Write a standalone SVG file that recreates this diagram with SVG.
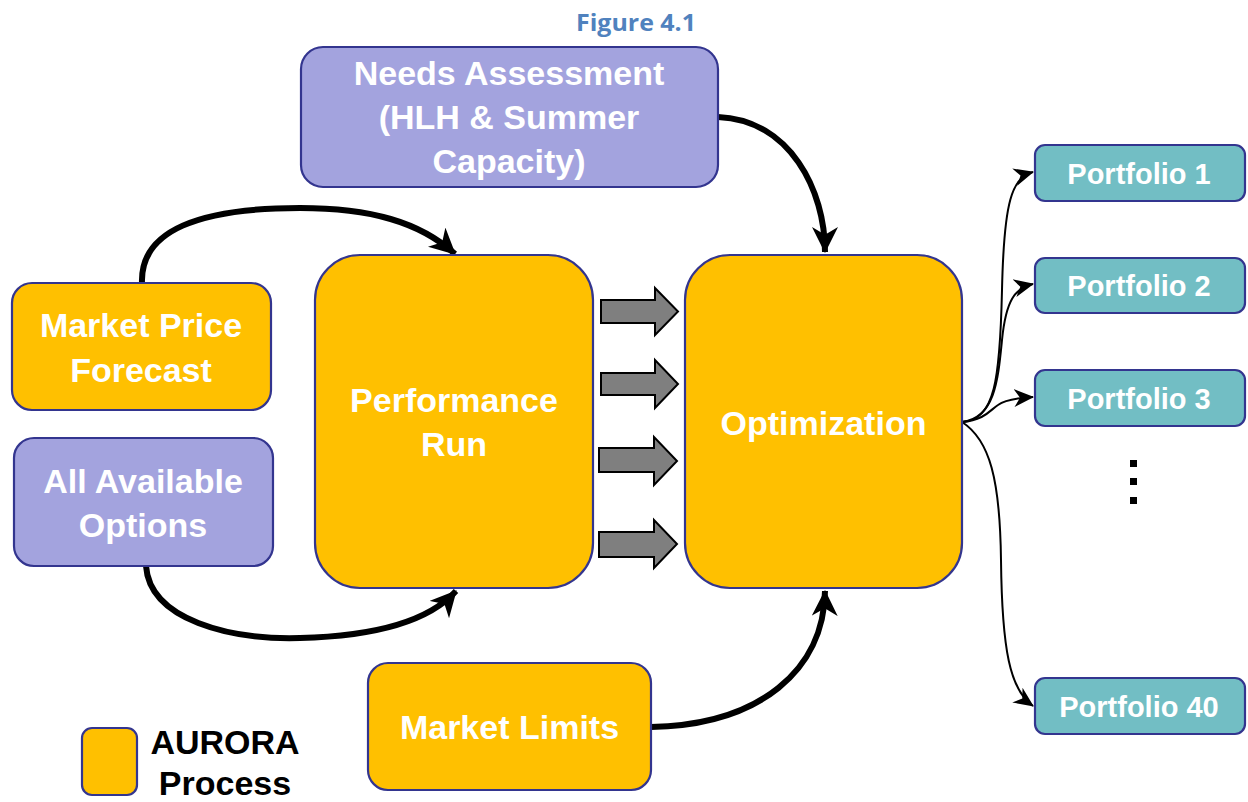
<svg xmlns="http://www.w3.org/2000/svg" width="1248" height="802" viewBox="0 0 1248 802">
<defs>
<style>
.box{stroke:#33358f;stroke-width:2.2}
.gold{fill:#FFC000}
.lav{fill:#A3A3DE}
.teal{fill:#72BEC4}
.t{font-family:"Liberation Sans",Arial,sans-serif;font-weight:bold;font-size:34px;fill:#fff;text-anchor:middle}
.pt{font-family:"Liberation Sans",Arial,sans-serif;font-weight:bold;font-size:29px;fill:#fff;text-anchor:middle}
.lg{font-family:"Liberation Sans",Arial,sans-serif;font-weight:bold;font-size:34px;fill:#000;text-anchor:middle}
.thick{fill:none;stroke:#000;stroke-width:6}
.thin{fill:none;stroke:#000;stroke-width:2}
.blk{fill:#7f7f7f;stroke:#000;stroke-width:2;stroke-linejoin:miter}
</style>
<marker id="mThick" viewBox="0 0 24 24" refX="23" refY="12" markerWidth="26" markerHeight="26" markerUnits="userSpaceOnUse" orient="auto">
<path d="M0,0 L24,12 L0,24 L7,12 z" fill="#000"/>
</marker>
<marker id="mThin" viewBox="0 0 20 20" refX="19" refY="10" markerWidth="20" markerHeight="20" markerUnits="userSpaceOnUse" orient="auto">
<path d="M0,1 L20,10 L0,19 L6,10 z" fill="#000"/>
</marker>
</defs>
<rect width="1248" height="802" fill="#fff"/>

<text x="636" y="31" font-family="'Open Sans','Liberation Sans',sans-serif" font-weight="bold" font-size="24" fill="#5082be" text-anchor="middle" textLength="120" lengthAdjust="spacingAndGlyphs">Figure 4.1</text>

<g id="connectors">
<path class="thick" d="M142,283 C140,230 200,208 300,208 C370,208 420,222 455,254" marker-end="url(#mThick)"/>
<path class="thick" d="M146,566 C150,620 230,640 300,638 C380,636 430,620 456,591" marker-end="url(#mThick)"/>
<path class="thick" d="M718,117 C790,120 825,190 825,252" marker-end="url(#mThick)"/>
<path class="thick" d="M651,727 C760,725 824,670 825,591" marker-end="url(#mThick)"/>
<path class="thin" d="M962,422 C995,420 1000,380 1002,290 C1004,200 1012,178 1033,172" marker-end="url(#mThin)"/>
<path class="thin" d="M962,422 C995,418 998,380 1002,340 C1006,300 1015,288 1033,284" marker-end="url(#mThin)"/>
<path class="thin" d="M962,422 C985,420 990,410 998,405 C1005,400 1015,398 1033,397" marker-end="url(#mThin)"/>
<path class="thin" d="M962,422 C990,440 1000,480 1001,560 C1002,650 1010,690 1033,706" marker-end="url(#mThin)"/>
<path class="blk" d="M601,300 L655,300 L655,288 L678,311.5 L655,335 L655,323 L601,323 z"/>
<path class="blk" d="M601,373 L655,373 L655,360 L678,384 L655,408 L655,395 L601,395 z"/>
<path class="blk" d="M599,448 L654,448 L654,437 L677,461 L654,485 L654,472 L599,472 z"/>
<path class="blk" d="M599,532 L654,532 L654,520 L677,544 L654,568 L654,557 L599,557 z"/>
</g>

<g id="needs">
<rect class="box lav" x="301" y="47" width="417" height="140" rx="22"/>
<text class="t" x="509" y="85">Needs Assessment</text>
<text class="t" x="509" y="129">(HLH &amp; Summer</text>
<text class="t" x="509" y="173">Capacity)</text>
</g>

<g id="market-price">
<rect class="box gold" x="12" y="283" width="259" height="127" rx="20"/>
<text class="t" x="141" y="337">Market Price</text>
<text class="t" x="141" y="382">Forecast</text>
</g>

<g id="options">
<rect class="box lav" x="14" y="438" width="259" height="128" rx="20"/>
<text class="t" x="143" y="493">All Available</text>
<text class="t" x="143" y="537">Options</text>
</g>

<g id="performance">
<rect class="box gold" x="315" y="255" width="278" height="333" rx="45"/>
<text class="t" x="454" y="412">Performance</text>
<text class="t" x="454" y="456">Run</text>
</g>

<g id="optimization">
<rect class="box gold" x="685" y="255" width="277" height="333" rx="45"/>
<text class="t" x="823.5" y="435">Optimization</text>
</g>

<g id="market-limits">
<rect class="box gold" x="368" y="663" width="283" height="127" rx="20"/>
<text class="t" x="509.5" y="739">Market Limits</text>
</g>

<g id="portfolio1">
<rect class="box teal" x="1035" y="145" width="210" height="56" rx="10"/>
<text class="pt" x="1139" y="183.5">Portfolio 1</text>
</g>
<g id="portfolio2">
<rect class="box teal" x="1035" y="258" width="210" height="55" rx="10"/>
<text class="pt" x="1139" y="296">Portfolio 2</text>
</g>
<g id="portfolio3">
<rect class="box teal" x="1035" y="370" width="210" height="56" rx="10"/>
<text class="pt" x="1139" y="408.5">Portfolio 3</text>
</g>
<g id="dots">
<rect x="1130" y="460" width="7" height="7" fill="#000"/>
<rect x="1130" y="478" width="7" height="7" fill="#000"/>
<rect x="1130" y="497" width="7" height="7" fill="#000"/>
</g>
<g id="portfolio40">
<rect class="box teal" x="1035" y="678" width="210" height="56" rx="10"/>
<text class="pt" x="1139" y="716.5">Portfolio 40</text>
</g>

<g id="legend">
<rect class="box gold" x="82" y="728" width="55" height="67" rx="10"/>
<text class="lg" x="225" y="754">AURORA</text>
<text class="lg" x="225" y="795">Process</text>
</g>
</svg>
